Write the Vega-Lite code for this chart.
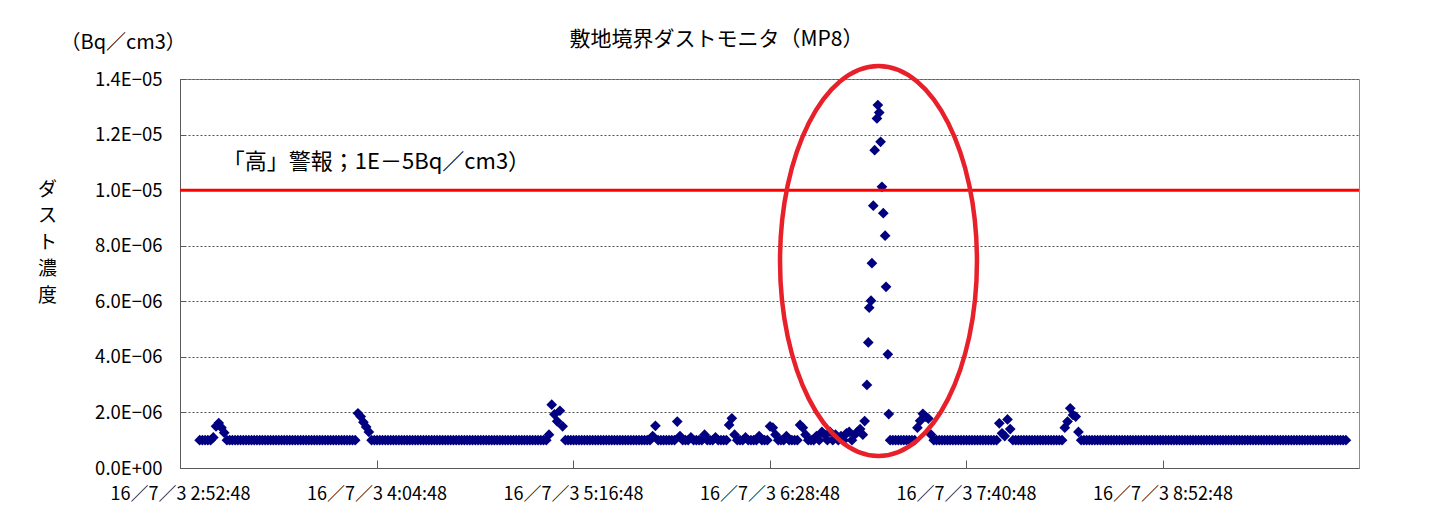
{
"$schema":"https://vega.github.io/schema/vega-lite/v6.json",
"width":1179,"height":389,
"autosize":{"type":"none"},
"padding":{"left":180,"top":79,"right":72,"bottom":50},
"background":"white",
"config":{"view":{"stroke":"#8c8c8c","strokeWidth":1},"font":"Noto Sans CJK JP"},
"title":{"text":"敷地境界ダストモニタ（MP8）","fontSize":21,"fontWeight":"normal","color":"#000","anchor":"middle","dx":-53,"dy":28,"offset":10,"font":"Noto Sans CJK JP"},
"layer":[
{"data":{"values":[
{"t":"3:00:00","v":1e-6},{"t":"3:01:00","v":1e-6},{"t":"3:02:00","v":1e-6},{"t":"3:03:00","v":1e-6},{"t":"3:04:00","v":1e-6},{"t":"3:05:00","v":1.1e-6},{"t":"3:06:00","v":1.5e-6},{"t":"3:07:00","v":1.62e-6},{"t":"3:08:00","v":1.45e-6},{"t":"3:09:00","v":1.27e-6},
{"t":"3:10:00","v":1e-6},{"t":"3:11:00","v":1e-6},{"t":"3:12:00","v":1e-6},{"t":"3:13:00","v":1e-6},{"t":"3:14:00","v":1e-6},{"t":"3:15:00","v":1e-6},{"t":"3:16:00","v":1e-6},{"t":"3:17:00","v":1e-6},{"t":"3:18:00","v":1e-6},{"t":"3:19:00","v":1e-6},
{"t":"3:20:00","v":1e-6},{"t":"3:21:00","v":1e-6},{"t":"3:22:00","v":1e-6},{"t":"3:23:00","v":1e-6},{"t":"3:24:00","v":1e-6},{"t":"3:25:00","v":1e-6},{"t":"3:26:00","v":1e-6},{"t":"3:27:00","v":1e-6},{"t":"3:28:00","v":1e-6},{"t":"3:29:00","v":1e-6},
{"t":"3:30:00","v":1e-6},{"t":"3:31:00","v":1e-6},{"t":"3:32:00","v":1e-6},{"t":"3:33:00","v":1e-6},{"t":"3:34:00","v":1e-6},{"t":"3:35:00","v":1e-6},{"t":"3:36:00","v":1e-6},{"t":"3:37:00","v":1e-6},{"t":"3:38:00","v":1e-6},{"t":"3:39:00","v":1e-6},
{"t":"3:40:00","v":1e-6},{"t":"3:41:00","v":1e-6},{"t":"3:42:00","v":1e-6},{"t":"3:43:00","v":1e-6},{"t":"3:44:00","v":1e-6},{"t":"3:45:00","v":1e-6},{"t":"3:46:00","v":1e-6},{"t":"3:47:00","v":1e-6},{"t":"3:48:00","v":1e-6},{"t":"3:49:00","v":1e-6},
{"t":"3:50:00","v":1e-6},{"t":"3:51:00","v":1e-6},{"t":"3:52:00","v":1e-6},{"t":"3:53:00","v":1e-6},{"t":"3:54:00","v":1e-6},{"t":"3:55:00","v":1e-6},{"t":"3:56:00","v":1e-6},{"t":"3:57:00","v":1e-6},{"t":"3:58:00","v":1.97e-6},{"t":"3:59:00","v":1.85e-6},
{"t":"4:00:00","v":1.65e-6},{"t":"4:01:00","v":1.48e-6},{"t":"4:02:00","v":1.3e-6},{"t":"4:03:00","v":1e-6},{"t":"4:04:00","v":1e-6},{"t":"4:05:00","v":1e-6},{"t":"4:06:00","v":1e-6},{"t":"4:07:00","v":1e-6},{"t":"4:08:00","v":1e-6},{"t":"4:09:00","v":1e-6},
{"t":"4:10:00","v":1e-6},{"t":"4:11:00","v":1e-6},{"t":"4:12:00","v":1e-6},{"t":"4:13:00","v":1e-6},{"t":"4:14:00","v":1e-6},{"t":"4:15:00","v":1e-6},{"t":"4:16:00","v":1e-6},{"t":"4:17:00","v":1e-6},{"t":"4:18:00","v":1e-6},{"t":"4:19:00","v":1e-6},
{"t":"4:20:00","v":1e-6},{"t":"4:21:00","v":1e-6},{"t":"4:22:00","v":1e-6},{"t":"4:23:00","v":1e-6},{"t":"4:24:00","v":1e-6},{"t":"4:25:00","v":1e-6},{"t":"4:26:00","v":1e-6},{"t":"4:27:00","v":1e-6},{"t":"4:28:00","v":1e-6},{"t":"4:29:00","v":1e-6},
{"t":"4:30:00","v":1e-6},{"t":"4:31:00","v":1e-6},{"t":"4:32:00","v":1e-6},{"t":"4:33:00","v":1e-6},{"t":"4:34:00","v":1e-6},{"t":"4:35:00","v":1e-6},{"t":"4:36:00","v":1e-6},{"t":"4:37:00","v":1e-6},{"t":"4:38:00","v":1e-6},{"t":"4:39:00","v":1e-6},
{"t":"4:40:00","v":1e-6},{"t":"4:41:00","v":1e-6},{"t":"4:42:00","v":1e-6},{"t":"4:43:00","v":1e-6},{"t":"4:44:00","v":1e-6},{"t":"4:45:00","v":1e-6},{"t":"4:46:00","v":1e-6},{"t":"4:47:00","v":1e-6},{"t":"4:48:00","v":1e-6},{"t":"4:49:00","v":1e-6},
{"t":"4:50:00","v":1e-6},{"t":"4:51:00","v":1e-6},{"t":"4:52:00","v":1e-6},{"t":"4:53:00","v":1e-6},{"t":"4:54:00","v":1e-6},{"t":"4:55:00","v":1e-6},{"t":"4:56:00","v":1e-6},{"t":"4:57:00","v":1e-6},{"t":"4:58:00","v":1e-6},{"t":"4:59:00","v":1e-6},
{"t":"5:00:00","v":1e-6},{"t":"5:01:00","v":1e-6},{"t":"5:02:00","v":1e-6},{"t":"5:03:00","v":1e-6},{"t":"5:04:00","v":1e-6},{"t":"5:05:00","v":1e-6},{"t":"5:06:00","v":1e-6},{"t":"5:07:00","v":1e-6},{"t":"5:08:00","v":1.2e-6},{"t":"5:09:00","v":2.28e-6},
{"t":"5:10:00","v":1.93e-6},{"t":"5:11:00","v":1.68e-6},{"t":"5:12:00","v":2.06e-6},{"t":"5:13:00","v":1.5e-6},{"t":"5:14:00","v":1e-6},{"t":"5:15:00","v":1e-6},{"t":"5:16:00","v":1e-6},{"t":"5:17:00","v":1e-6},{"t":"5:18:00","v":1e-6},{"t":"5:19:00","v":1e-6},
{"t":"5:20:00","v":1e-6},{"t":"5:21:00","v":1e-6},{"t":"5:22:00","v":1e-6},{"t":"5:23:00","v":1e-6},{"t":"5:24:00","v":1e-6},{"t":"5:25:00","v":1e-6},{"t":"5:26:00","v":1e-6},{"t":"5:27:00","v":1e-6},{"t":"5:28:00","v":1e-6},{"t":"5:29:00","v":1e-6},
{"t":"5:30:00","v":1e-6},{"t":"5:31:00","v":1e-6},{"t":"5:32:00","v":1e-6},{"t":"5:33:00","v":1e-6},{"t":"5:34:00","v":1e-6},{"t":"5:35:00","v":1e-6},{"t":"5:36:00","v":1e-6},{"t":"5:37:00","v":1e-6},{"t":"5:38:00","v":1e-6},{"t":"5:39:00","v":1e-6},
{"t":"5:40:00","v":1e-6},{"t":"5:41:00","v":1e-6},{"t":"5:42:00","v":1e-6},{"t":"5:43:00","v":1e-6},{"t":"5:44:00","v":1e-6},{"t":"5:45:00","v":1e-6},{"t":"5:46:00","v":1.15e-6},{"t":"5:47:00","v":1.52e-6},{"t":"5:48:00","v":1e-6},{"t":"5:49:00","v":1e-6},
{"t":"5:50:00","v":1e-6},{"t":"5:51:00","v":1e-6},{"t":"5:52:00","v":1e-6},{"t":"5:53:00","v":1e-6},{"t":"5:54:00","v":1e-6},{"t":"5:55:00","v":1.67e-6},{"t":"5:56:00","v":1.15e-6},{"t":"5:57:00","v":1e-6},{"t":"5:58:00","v":1e-6},{"t":"5:59:00","v":1e-6},
{"t":"6:00:00","v":1.1e-6},{"t":"6:01:00","v":1e-6},{"t":"6:02:00","v":1e-6},{"t":"6:03:00","v":1e-6},{"t":"6:04:00","v":1e-6},{"t":"6:05:00","v":1.2e-6},{"t":"6:06:00","v":1e-6},{"t":"6:07:00","v":1e-6},{"t":"6:08:00","v":1e-6},{"t":"6:09:00","v":1.1e-6},
{"t":"6:10:00","v":1e-6},{"t":"6:11:00","v":1e-6},{"t":"6:12:00","v":1e-6},{"t":"6:13:00","v":1e-6},{"t":"6:14:00","v":1.55e-6},{"t":"6:15:00","v":1.79e-6},{"t":"6:16:00","v":1.2e-6},{"t":"6:17:00","v":1e-6},{"t":"6:18:00","v":1e-6},{"t":"6:19:00","v":1e-6},
{"t":"6:20:00","v":1.1e-6},{"t":"6:21:00","v":1e-6},{"t":"6:22:00","v":1e-6},{"t":"6:23:00","v":1e-6},{"t":"6:24:00","v":1e-6},{"t":"6:25:00","v":1.15e-6},{"t":"6:26:00","v":1e-6},{"t":"6:27:00","v":1e-6},{"t":"6:28:00","v":1e-6},{"t":"6:29:00","v":1.5e-6},
{"t":"6:30:00","v":1.45e-6},{"t":"6:31:00","v":1.2e-6},{"t":"6:32:00","v":1e-6},{"t":"6:33:00","v":1e-6},{"t":"6:34:00","v":1e-6},{"t":"6:35:00","v":1.15e-6},{"t":"6:36:00","v":1e-6},{"t":"6:37:00","v":1e-6},{"t":"6:38:00","v":1e-6},{"t":"6:39:00","v":1e-6},
{"t":"6:40:00","v":1.55e-6},{"t":"6:41:00","v":1.45e-6},{"t":"6:42:00","v":1.2e-6},{"t":"6:43:00","v":1e-6},{"t":"6:44:00","v":1e-6},{"t":"6:45:00","v":1e-6},{"t":"6:46:00","v":1.15e-6},{"t":"6:47:00","v":1e-6},{"t":"6:48:00","v":1.3e-6},{"t":"6:49:00","v":1.2e-6},
{"t":"6:50:00","v":1e-6},{"t":"6:51:00","v":1.3e-6},{"t":"6:52:00","v":1e-6},{"t":"6:53:00","v":1.2e-6},{"t":"6:54:00","v":1e-6},{"t":"6:55:00","v":1.15e-6},{"t":"6:56:00","v":1e-6},{"t":"6:57:00","v":1.25e-6},{"t":"6:58:00","v":1.3e-6},{"t":"6:59:00","v":1e-6},
{"t":"7:00:00","v":1.2e-6},{"t":"7:01:00","v":1.3e-6},{"t":"7:02:00","v":1.4e-6},{"t":"7:03:00","v":1.2e-6},
{"t":"7:03:40","v":1.69e-6},{"t":"7:04:30","v":2.99e-6},{"t":"7:05:00","v":4.52e-6},{"t":"7:05:20","v":5.77e-6},{"t":"7:06:00","v":6.02e-6},{"t":"7:06:20","v":7.37e-6},{"t":"7:06:50","v":9.44e-6},{"t":"7:07:20","v":1.144e-5},{"t":"7:08:10","v":1.258e-5},{"t":"7:08:30","v":1.306e-5},{"t":"7:09:00","v":1.279e-5},{"t":"7:09:30","v":1.174e-5},{"t":"7:10:00","v":1.012e-5},{"t":"7:10:30","v":9.17e-6},{"t":"7:11:10","v":8.36e-6},{"t":"7:11:30","v":6.52e-6},{"t":"7:12:10","v":4.09e-6},{"t":"7:12:30","v":1.94e-6},
{"t":"7:13:00","v":1e-6},{"t":"7:14:00","v":1e-6},{"t":"7:15:00","v":1e-6},{"t":"7:16:00","v":1e-6},{"t":"7:17:00","v":1e-6},{"t":"7:18:00","v":1e-6},{"t":"7:19:00","v":1e-6},
{"t":"7:20:00","v":1e-6},{"t":"7:21:00","v":1e-6},{"t":"7:22:00","v":1e-6},{"t":"7:23:00","v":1.45e-6},{"t":"7:24:00","v":1.7e-6},{"t":"7:25:00","v":1.95e-6},{"t":"7:26:00","v":1.85e-6},{"t":"7:27:00","v":1.78e-6},{"t":"7:28:00","v":1.2e-6},{"t":"7:29:00","v":1e-6},
{"t":"7:30:00","v":1e-6},{"t":"7:31:00","v":1e-6},{"t":"7:32:00","v":1e-6},{"t":"7:33:00","v":1e-6},{"t":"7:34:00","v":1e-6},{"t":"7:35:00","v":1e-6},{"t":"7:36:00","v":1e-6},{"t":"7:37:00","v":1e-6},{"t":"7:38:00","v":1e-6},{"t":"7:39:00","v":1e-6},
{"t":"7:40:00","v":1e-6},{"t":"7:41:00","v":1e-6},{"t":"7:42:00","v":1e-6},{"t":"7:43:00","v":1e-6},{"t":"7:44:00","v":1e-6},{"t":"7:45:00","v":1e-6},{"t":"7:46:00","v":1e-6},{"t":"7:47:00","v":1e-6},{"t":"7:48:00","v":1e-6},{"t":"7:49:00","v":1e-6},
{"t":"7:50:00","v":1e-6},{"t":"7:51:00","v":1e-6},{"t":"7:52:00","v":1e-6},{"t":"7:53:00","v":1.61e-6},{"t":"7:54:00","v":1.25e-6},{"t":"7:55:00","v":1.15e-6},{"t":"7:56:00","v":1.75e-6},{"t":"7:57:00","v":1.4e-6},{"t":"7:58:00","v":1e-6},{"t":"7:59:00","v":1e-6},
{"t":"8:00:00","v":1e-6},{"t":"8:01:00","v":1e-6},{"t":"8:02:00","v":1e-6},{"t":"8:03:00","v":1e-6},{"t":"8:04:00","v":1e-6},{"t":"8:05:00","v":1e-6},{"t":"8:06:00","v":1e-6},{"t":"8:07:00","v":1e-6},{"t":"8:08:00","v":1e-6},{"t":"8:09:00","v":1e-6},
{"t":"8:10:00","v":1e-6},{"t":"8:11:00","v":1e-6},{"t":"8:12:00","v":1e-6},{"t":"8:13:00","v":1e-6},{"t":"8:14:00","v":1e-6},{"t":"8:15:00","v":1e-6},{"t":"8:16:00","v":1e-6},{"t":"8:17:00","v":1.45e-6},{"t":"8:18:00","v":1.67e-6},{"t":"8:19:00","v":2.15e-6},
{"t":"8:20:00","v":1.91e-6},{"t":"8:21:00","v":1.85e-6},{"t":"8:22:00","v":1.3e-6},{"t":"8:23:00","v":1e-6},{"t":"8:24:00","v":1e-6},{"t":"8:25:00","v":1e-6},{"t":"8:26:00","v":1e-6},{"t":"8:27:00","v":1e-6},{"t":"8:28:00","v":1e-6},{"t":"8:29:00","v":1e-6},
{"t":"8:30:00","v":1e-6},{"t":"8:31:00","v":1e-6},{"t":"8:32:00","v":1e-6},{"t":"8:33:00","v":1e-6},{"t":"8:34:00","v":1e-6},{"t":"8:35:00","v":1e-6},{"t":"8:36:00","v":1e-6},{"t":"8:37:00","v":1e-6},{"t":"8:38:00","v":1e-6},{"t":"8:39:00","v":1e-6},
{"t":"8:40:00","v":1e-6},{"t":"8:41:00","v":1e-6},{"t":"8:42:00","v":1e-6},{"t":"8:43:00","v":1e-6},{"t":"8:44:00","v":1e-6},{"t":"8:45:00","v":1e-6},{"t":"8:46:00","v":1e-6},{"t":"8:47:00","v":1e-6},{"t":"8:48:00","v":1e-6},{"t":"8:49:00","v":1e-6},
{"t":"8:50:00","v":1e-6},{"t":"8:51:00","v":1e-6},{"t":"8:52:00","v":1e-6},{"t":"8:53:00","v":1e-6},{"t":"8:54:00","v":1e-6},{"t":"8:55:00","v":1e-6},{"t":"8:56:00","v":1e-6},{"t":"8:57:00","v":1e-6},{"t":"8:58:00","v":1e-6},{"t":"8:59:00","v":1e-6},
{"t":"9:00:00","v":1e-6},{"t":"9:01:00","v":1e-6},{"t":"9:02:00","v":1e-6},{"t":"9:03:00","v":1e-6},{"t":"9:04:00","v":1e-6},{"t":"9:05:00","v":1e-6},{"t":"9:06:00","v":1e-6},{"t":"9:07:00","v":1e-6},{"t":"9:08:00","v":1e-6},{"t":"9:09:00","v":1e-6},
{"t":"9:10:00","v":1e-6},{"t":"9:11:00","v":1e-6},{"t":"9:12:00","v":1e-6},{"t":"9:13:00","v":1e-6},{"t":"9:14:00","v":1e-6},{"t":"9:15:00","v":1e-6},{"t":"9:16:00","v":1e-6},{"t":"9:17:00","v":1e-6},{"t":"9:18:00","v":1e-6},{"t":"9:19:00","v":1e-6},
{"t":"9:20:00","v":1e-6},{"t":"9:21:00","v":1e-6},{"t":"9:22:00","v":1e-6},{"t":"9:23:00","v":1e-6},{"t":"9:24:00","v":1e-6},{"t":"9:25:00","v":1e-6},{"t":"9:26:00","v":1e-6},{"t":"9:27:00","v":1e-6},{"t":"9:28:00","v":1e-6},{"t":"9:29:00","v":1e-6},
{"t":"9:30:00","v":1e-6},{"t":"9:31:00","v":1e-6},{"t":"9:32:00","v":1e-6},{"t":"9:33:00","v":1e-6},{"t":"9:34:00","v":1e-6},{"t":"9:35:00","v":1e-6},{"t":"9:36:00","v":1e-6},{"t":"9:37:00","v":1e-6},{"t":"9:38:00","v":1e-6},{"t":"9:39:00","v":1e-6},
{"t":"9:40:00","v":1e-6},{"t":"9:41:00","v":1e-6},{"t":"9:42:00","v":1e-6},{"t":"9:43:00","v":1e-6},{"t":"9:44:00","v":1e-6},{"t":"9:45:00","v":1e-6},{"t":"9:46:00","v":1e-6},{"t":"9:47:00","v":1e-6},{"t":"9:48:00","v":1e-6},{"t":"9:49:00","v":1e-6},
{"t":"9:50:00","v":1e-6},{"t":"9:51:00","v":1e-6},{"t":"9:52:00","v":1e-6},{"t":"9:53:00","v":1e-6},{"t":"9:54:00","v":1e-6},{"t":"9:55:00","v":1e-6},{"t":"9:56:00","v":1e-6},{"t":"9:57:00","v":1e-6},{"t":"9:58:00","v":1e-6},{"t":"9:59:00","v":1e-6},
{"t":"10:00:00","v":1e-6}
],"format":{"parse":{"t":"date:'%H:%M:%S'"}}},
"mark":{"type":"point","shape":"diamond","filled":true,"opacity":1,"color":"#000080","size":115},
"encoding":{
"x":{"field":"t","type":"temporal","scale":{"domain":[{"year":1900,"month":1,"date":1,"hours":2,"minutes":52,"seconds":48},{"year":1900,"month":1,"date":1,"hours":10,"minutes":4,"seconds":48}]},
"axis":{"values":[{"year":1900,"month":1,"date":1,"hours":2,"minutes":52,"seconds":48},{"year":1900,"month":1,"date":1,"hours":4,"minutes":4,"seconds":48},{"year":1900,"month":1,"date":1,"hours":5,"minutes":16,"seconds":48},{"year":1900,"month":1,"date":1,"hours":6,"minutes":28,"seconds":48},{"year":1900,"month":1,"date":1,"hours":7,"minutes":40,"seconds":48},{"year":1900,"month":1,"date":1,"hours":8,"minutes":52,"seconds":48}],
"format":"16／7／3 %-H:%M:%S","labelFontSize":18,"labelColor":"#000","labelFont":"Noto Sans CJK JP","labelFlush":false,"labelOverlap":false,"labelPadding":25,"tickSize":-8,"tickColor":"#5a5a5a","domainColor":"#5a5a5a","grid":false,
"title":"（Bq／cm3）","titleX":-120,"titleY":-426,"titleAlign":"left","titleBaseline":"middle","titleFontSize":20,"titleFontWeight":"normal","titleColor":"#000","titleFont":"Noto Sans CJK JP"}},
"y":{"field":"v","type":"quantitative","scale":{"domain":[0,1.4e-5],"nice":false,"zero":true},
"axis":{"values":[0,2e-6,4e-6,6e-6,8e-6,1e-5,1.2e-5,1.4e-5],"labelExpr":"replace(replace(format(datum.value,'.1e'),'e-','E−0'),'e+','E+0')","labelFontSize":18.5,"labelColor":"#000","labelFont":"Noto Sans CJK JP","labelPadding":23,"tickSize":-5,"tickColor":"#5a5a5a","domainColor":"#5a5a5a","grid":true,"gridColor":"#555","gridDash":[2,2],"gridWidth":1,
"title":["ダ","ス","ト","濃","度"],"titleAngle":0,"titleX":-133,"titleY":101,"titleAlign":"center","titleBaseline":"top","titleLineHeight":26.5,"titleFontSize":19,"titleFontWeight":"normal","titleColor":"#000","titleFont":"Noto Sans CJK JP"}}
}},
{"data":{"values":[{"v":1e-5}]},
"mark":{"type":"rule","color":"#FF0000","strokeWidth":3},
"encoding":{"y":{"field":"v","type":"quantitative"}}},
{"data":{"values":[{"t":"3:08:30","v":1.1e-5,"label":"「高」警報；1E－5Bq／cm3）"}],"format":{"parse":{"t":"date:'%H:%M:%S'"}}},
"mark":{"type":"text","align":"left","baseline":"middle","fontSize":22,"color":"#000","font":"Noto Sans CJK JP"},
"encoding":{"x":{"field":"t","type":"temporal"},"y":{"field":"v","type":"quantitative"},"text":{"field":"label"}}},
{"data":{"values":[{"t":"7:08:44","v":7.45e-6}],"format":{"parse":{"t":"date:'%H:%M:%S'"}}},
"mark":{"type":"point","shape":"M 0 -1 A 0.505 1 0 1 1 0 1 A 0.505 1 0 1 1 0 -1 Z","filled":false,"color":"#E8202A","strokeWidth":4.5,"size":152100,"opacity":1},
"encoding":{"x":{"field":"t","type":"temporal"},"y":{"field":"v","type":"quantitative"}}}
]
}
